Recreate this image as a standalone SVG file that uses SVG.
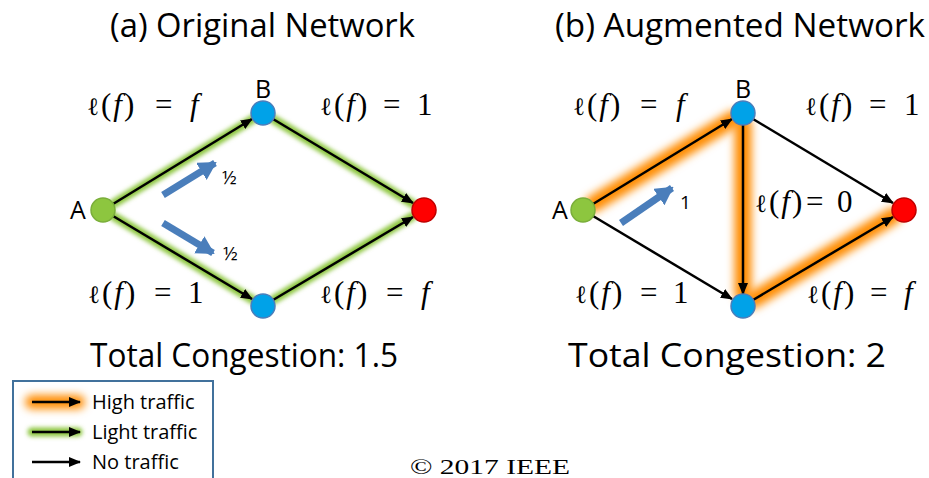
<svg xmlns="http://www.w3.org/2000/svg" width="929" height="478" viewBox="0 0 929 478">
<defs>
<style>
.title{font-family:"Open Sans","Liberation Sans",sans-serif;font-size:32px;fill:#000}
.math{font-family:"Liberation Serif","DejaVu Serif",serif;font-size:31px;fill:#000}
.it{font-style:italic}
.ell{font-family:"DejaVu Serif",serif;font-size:25px}
.lhs{letter-spacing:2px}
.lbl{font-family:"Open Sans","Liberation Sans",sans-serif;font-size:25px;fill:#000}
.small{font-family:"Open Sans","Liberation Sans",sans-serif;font-size:19px;fill:#000}
.leg{font-family:"Open Sans","Liberation Sans",sans-serif;font-size:20px;fill:#000}
.edge{stroke:#000;stroke-width:2.5;fill:none;marker-end:url(#ah)}
.green{stroke:#8DC63F;stroke-width:9;fill:none;filter:url(#blurG);stroke-linecap:round}
.orange{stroke:#FF8C00;stroke-width:17;fill:none;filter:url(#blurO);stroke-linecap:round}
.flow{stroke:#4A7EBB;stroke-width:7;fill:none;marker-end:url(#bh)}
</style>
<marker id="ah" markerUnits="userSpaceOnUse" markerWidth="12" markerHeight="10" refX="11" refY="5" orient="auto"><path d="M0,0 L12,5 L0,10 z" fill="#000"/></marker>
<marker id="bh" markerUnits="userSpaceOnUse" markerWidth="18" markerHeight="20" refX="16" refY="10" orient="auto"><path d="M0,0 L18,10 L0,20 z" fill="#4A7EBB"/></marker>
<filter id="blurG" filterUnits="userSpaceOnUse" x="0" y="0" width="929" height="478"><feGaussianBlur stdDeviation="2"/></filter>
<filter id="blurO" filterUnits="userSpaceOnUse" x="0" y="0" width="929" height="478"><feGaussianBlur stdDeviation="4"/></filter>
</defs>
<rect width="929" height="478" fill="#fff"/>

<text class="title" x="110" y="37" textLength="305" lengthAdjust="spacingAndGlyphs">(a) Original Network</text>
<text class="title" x="555" y="37" textLength="370" lengthAdjust="spacingAndGlyphs">(b) Augmented Network</text>
<text class="title" x="90" y="367" textLength="308" lengthAdjust="spacingAndGlyphs">Total Congestion: 1.5</text>
<text class="title" x="568" y="367" textLength="318" lengthAdjust="spacingAndGlyphs">Total Congestion: 2</text>

<g id="glow">
<line class="green" x1="113" y1="204" x2="253" y2="119"/>
<line class="green" x1="113" y1="216" x2="253" y2="300"/>
<line class="green" x1="273" y1="119" x2="413" y2="204"/>
<line class="green" x1="273" y1="300" x2="413" y2="216"/>
<line class="orange" x1="593" y1="204" x2="733" y2="119"/>
<line class="orange" x1="743" y1="125" x2="743" y2="294"/>
<line class="orange" x1="753" y1="300" x2="893" y2="216"/>
</g>

<g id="connectors">
<line class="edge" x1="113" y1="204" x2="252" y2="119"/>
<line class="edge" x1="113" y1="216" x2="252" y2="299"/>
<line class="edge" x1="273" y1="119" x2="413" y2="203"/>
<line class="edge" x1="273" y1="300" x2="413" y2="217"/>
<line class="edge" x1="593" y1="204" x2="732" y2="119"/>
<line class="edge" x1="593" y1="216" x2="732" y2="299"/>
<line class="edge" x1="753" y1="119" x2="893" y2="203"/>
<line class="edge" x1="743" y1="125" x2="743" y2="294"/>
<line class="edge" x1="753" y1="300" x2="893" y2="217"/>
<line class="flow" x1="163" y1="195" x2="215" y2="163"/>
<line class="flow" x1="163" y1="223" x2="213" y2="253"/>
<line class="flow" x1="621" y1="223" x2="672" y2="188"/>
</g>

<g id="nodeA1"><circle cx="103" cy="210" r="12" fill="#8DC63F" stroke="#7AAE3A" stroke-width="1.5"/><text class="lbl" x="78" y="219" text-anchor="middle">A</text></g>
<g id="nodeB1"><circle cx="263" cy="113" r="12" fill="#00A2E8" stroke="#4A7EBB" stroke-width="1.5"/><text class="lbl" x="263" y="98" text-anchor="middle">B</text></g>
<g id="nodeC1"><circle cx="263" cy="306" r="12" fill="#00A2E8" stroke="#4A7EBB" stroke-width="1.5"/></g>
<g id="nodeT1"><circle cx="424" cy="210" r="12" fill="#FF0000" stroke="#C00000" stroke-width="1.5"/></g>

<g id="nodeA2"><circle cx="583" cy="210" r="12" fill="#8DC63F" stroke="#7AAE3A" stroke-width="1.5"/><text class="lbl" x="560" y="219" text-anchor="middle">A</text></g>
<g id="nodeB2"><circle cx="743" cy="113" r="12" fill="#00A2E8" stroke="#4A7EBB" stroke-width="1.5"/><text class="lbl" x="743" y="98" text-anchor="middle">B</text></g>
<g id="nodeC2"><circle cx="743" cy="306" r="12" fill="#00A2E8" stroke="#4A7EBB" stroke-width="1.5"/></g>
<g id="nodeT2"><circle cx="904" cy="210" r="12" fill="#FF0000" stroke="#C00000" stroke-width="1.5"/></g>

<g id="labels">
<text class="math" y="115"><tspan x="87" class="lhs"><tspan class="ell">ℓ</tspan>(<tspan class="it">f</tspan>)</tspan><tspan x="155">=</tspan><tspan x="190" class="it">f</tspan></text>
<text class="math" y="115"><tspan x="320" class="lhs"><tspan class="ell">ℓ</tspan>(<tspan class="it">f</tspan>)</tspan><tspan x="383">=</tspan><tspan x="417">1</tspan></text>
<text class="math" y="303"><tspan x="88" class="lhs"><tspan class="ell">ℓ</tspan>(<tspan class="it">f</tspan>)</tspan><tspan x="154">=</tspan><tspan x="188">1</tspan></text>
<text class="math" y="303"><tspan x="320" class="lhs"><tspan class="ell">ℓ</tspan>(<tspan class="it">f</tspan>)</tspan><tspan x="386">=</tspan><tspan x="421" class="it">f</tspan></text>
<text class="math" y="115"><tspan x="573" class="lhs"><tspan class="ell">ℓ</tspan>(<tspan class="it">f</tspan>)</tspan><tspan x="640">=</tspan><tspan x="676" class="it">f</tspan></text>
<text class="math" y="115"><tspan x="805" class="lhs"><tspan class="ell">ℓ</tspan>(<tspan class="it">f</tspan>)</tspan><tspan x="869">=</tspan><tspan x="904">1</tspan></text>
<text class="math" y="303"><tspan x="575" class="lhs"><tspan class="ell">ℓ</tspan>(<tspan class="it">f</tspan>)</tspan><tspan x="640">=</tspan><tspan x="673">1</tspan></text>
<text class="math" y="303"><tspan x="807" class="lhs"><tspan class="ell">ℓ</tspan>(<tspan class="it">f</tspan>)</tspan><tspan x="870">=</tspan><tspan x="904" class="it">f</tspan></text>
<text class="math" y="212"><tspan x="755" class="lhs"><tspan class="ell">ℓ</tspan>(<tspan class="it">f</tspan>)</tspan><tspan x="806">=</tspan><tspan x="837">0</tspan></text>
<text class="small" x="222" y="184">½</text>
<text class="small" x="223" y="260">½</text>
<text class="small" x="680" y="209">1</text>
</g>

<g id="legend">
<rect x="13" y="381" width="200" height="100" fill="#fff" stroke="#41719C" stroke-width="2"/>
<line class="orange" x1="32" y1="402" x2="78" y2="402" style="stroke-width:14"/>
<line class="edge" x1="32" y1="402" x2="80" y2="402"/>
<text class="leg" x="92" y="409">High traffic</text>
<line class="green" x1="32" y1="432" x2="78" y2="432"/>
<line class="edge" x1="32" y1="432" x2="80" y2="432"/>
<text class="leg" x="92" y="439">Light traffic</text>
<line class="edge" x1="32" y1="462" x2="80" y2="462"/>
<text class="leg" x="92" y="469">No traffic</text>
</g>

<text x="410" y="474" font-family="Liberation Serif,serif" font-size="22" textLength="160" lengthAdjust="spacingAndGlyphs">© 2017 IEEE</text>
</svg>
